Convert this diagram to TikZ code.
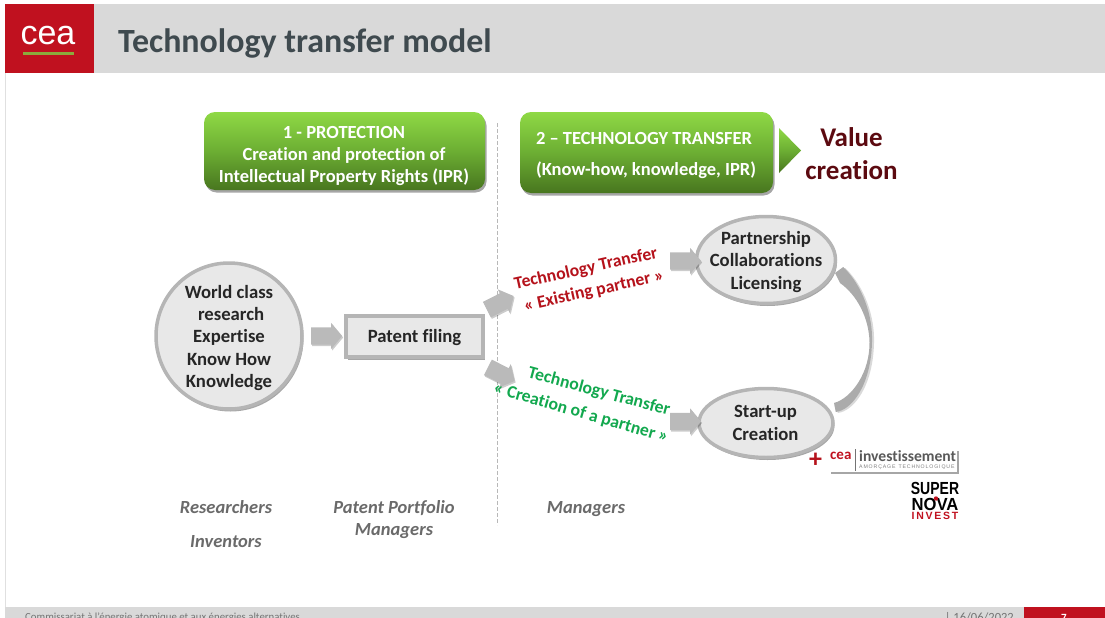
\documentclass[tikz,border=0pt]{standalone}
\usepackage{fontspec}
\setmainfont[Ligatures=NoCommon]{Carlito}
\newfontfamily\logofont{Liberation Sans}
\usetikzlibrary{shapes.arrows,shapes.geometric,shadows,shadings,calc}
\definecolor{hdr}{HTML}{D9D9D9}
\definecolor{cearedc}{HTML}{C0111F}
\definecolor{titlec}{HTML}{3F4A4F}
\definecolor{ring}{HTML}{B5B5B5}
\definecolor{disc}{HTML}{E8E8E8}
\definecolor{gtop}{HTML}{8FD945}
\definecolor{gmid}{HTML}{6CAE33}
\definecolor{gbot}{HTML}{48761F}
\definecolor{valc}{HTML}{5C0A10}
\definecolor{arrowc}{HTML}{BABABA}
\definecolor{redt}{HTML}{B5121B}
\definecolor{greent}{HTML}{12A84E}
\definecolor{lowc}{HTML}{6A6A6A}
\definecolor{logogreen}{HTML}{8CAB3C}
\tikzset{
  x=1pt,y=-1pt,
  softshadow/.style={drop shadow={shadow xshift=1.5pt,shadow yshift=-2.5pt,fill=black,opacity=.35}},
  greenbox/.style={rounded corners=11pt,shade,top color=gtop,bottom color=gbot,middle color=gmid,softshadow,anchor=center,inner sep=0pt},
  boxtext/.style={text=white,font=\fontsize{18.5}{22.3}\selectfont\bfseries,align=center,inner sep=0pt},
  greycirc/.style={circle,draw=ring,line width=3.5pt,fill=disc,softshadow,inner sep=0pt},
  greyell/.style={ellipse,draw=ring,line width=3.5pt,fill=disc,softshadow,inner sep=0pt},
  greyrect/.style={rectangle,draw=ring,line width=3.5pt,fill=disc,softshadow,inner sep=0pt},
  darktext/.style={font=\fontsize{18.7}{22.3}\selectfont\bfseries,text=black!85,align=center,inner sep=0pt},
  blockarrow/.style={single arrow,fill=arrowc,draw=none,minimum height=31pt,single arrow head extend=4.5pt,single arrow tip angle=100,inner sep=0pt,anchor=center,drop shadow={shadow xshift=1pt,shadow yshift=-1.5pt,fill=black,opacity=.2}},
  tlabel/.style={font=\fontsize{17.7}{21}\selectfont\bfseries,align=center,inner sep=0pt},
  lowlabel/.style={font=\fontsize{18.5}{22}\selectfont\bfseries\itshape,text=lowc,align=center,inner sep=0pt},
}
\newcommand{\shaftrule}{\rule{0pt}{17pt}}
\begin{document}
\begin{tikzpicture}
\useasboundingbox (0,0) rectangle (1105,618);
\clip (0,0) rectangle (1105,618);
% header
\fill[hdr] (5,4) rectangle (1105,73);
\fill[cearedc] (5,4) rectangle (94,73);
\draw[black!12,line width=.6pt] (5,73) -- (5,607);
\node[text=white,font=\logofont\fontsize{34}{34}\selectfont,inner sep=0pt] (logo) at (48,36) {cea};
\fill[logogreen] (23,52.5) rectangle (74,55);
\node[anchor=west,text=titlec,font=\fontsize{33.9}{36}\selectfont\bfseries,inner sep=0pt] (title) at (118,43) {Technology transfer model};
% footer
\fill[hdr] (5,607) rectangle (1105,618);
\fill[cearedc] (1024,607) rectangle (1105,618);
\node[anchor=west,text=black!55,font=\fontsize{10.8}{11}\selectfont,inner sep=0pt] (foot) at (25,618) {Commissariat à l’énergie atomique et aux énergies alternatives};
\node[anchor=east,text=black!55,font=\fontsize{12.5}{11}\selectfont,inner sep=0pt] (fdate) at (1014,618) {| 16/06/2022};
\node[text=white,font=\fontsize{11}{11}\selectfont\bfseries,inner sep=0pt] (fpage) at (1064,618) {7};
% top boxes
\node[greenbox,minimum width=281pt,minimum height=78pt] (prot) at (344.5,151) {};
\node[boxtext] (protT) at (344,156) {1 - PROTECTION\\Creation and protection of\\Intellectual Property Rights (IPR)};
\node[greenbox,minimum width=253pt,minimum height=81pt] (tt) at (646.5,152.5) {};
\node[boxtext] (ttA) at (644,138) {2 – TECHNOLOGY TRANSFER};
\node[boxtext] (ttB) at (646,170) {(Know-how, knowledge, IPR)};
\shade[top color=gtop,bottom color=gbot,middle color=gmid] (779,128) -- (801,150.5) -- (779,173) -- cycle;
\node[text=valc,font=\fontsize{27}{33}\selectfont\bfseries,align=center,inner sep=0pt] (val) at (851.5,153.5) {Value\\creation};
% divider
\coordinate (dtop) at (497,123);
\coordinate (dbot) at (497,525);
\draw[black!28,dash pattern=on 4pt off 2pt,line width=.8pt] (dtop) -- (dbot);
% main nodes
\node[greycirc,minimum size=146pt] (world) at (229,336) {};
\node[darktext] (worldt) at (229,338) {World class\\\ research\\Expertise\\Know How\\Knowledge};
\node[greyrect,minimum width=137pt,minimum height=41pt] (patent) at (414.5,336.5) {};
\node[darktext] (patentt) at (414.5,337.5) {Patent filing};
\node[greyell,minimum width=139pt,minimum height=87pt] (partner) at (766,260) {};
\node[darktext] (partnert) at (766,262) {Partnership\\Collaborations\\Licensing};
\node[greyell,minimum width=134pt,minimum height=69pt] (startup) at (766,423) {};
\node[darktext] (startupt) at (765.5,423) {Start-up\\Creation};
% block arrows
\node[blockarrow] (a1) at (323,336) {\shaftrule};
\node[blockarrow,rotate=27,minimum height=30pt] (a2) at (497,304.5) {\shaftrule};
\node[blockarrow,rotate=-27,minimum height=30pt] (a3) at (498,372.5) {\shaftrule};
\node[blockarrow] (a4) at (682,261) {\shaftrule};
\node[blockarrow] (a5) at (682,421.5) {\shaftrule};
% curved arrow
\coordinate (cS) at ($(startup.east)+(1,-11)$);
\coordinate (cT) at ($(partner.east)+(6,7)$);
\fill[fill=black!33,drop shadow={shadow xshift=2pt,shadow yshift=-1pt,fill=black,opacity=.15}]
  (cS) .. controls (852,410) and (871,385) .. (872,342)
  .. controls (873,315) and (862,285) .. (cT)
  -- (835,273) -- (840,283)
  .. controls (857,295) and (869,318) .. (869.5,342)
  .. controls (870,372) and (852,398) .. (834,403) -- cycle;
% labels on the branches
\node[tlabel,text=redt,rotate=12.5] (l1) at (586,269) {Technology Transfer};
\node[tlabel,text=redt,rotate=12.5] (l2) at (594,291) {« Existing partner »};
\node[tlabel,text=greent,rotate=-15] (l3) at (599,392) {Technology Transfer};
\node[tlabel,text=greent,rotate=-16] (l4) at (581,413) {« Creation of a partner »};
% lower captions
\node[lowlabel] (c1) at (226,507) {Researchers};
\node[lowlabel] (c2) at (226,542) {Inventors};
\node[lowlabel] (c3) at (394,520) {Patent Portfolio\\Managers};
\node[lowlabel] (c4) at (586,509) {Managers};
% logos
\node[text=redt,font=\fontsize{26}{26}\selectfont\bfseries,inner sep=0pt] (plus) at (815.5,460) {+};
\fill[white,drop shadow={shadow xshift=1.5pt,shadow yshift=-1.5pt,fill=black,opacity=.35}] (829,449) rectangle (957,472);
\node[anchor=west,text=cearedc,font=\fontsize{15}{15}\selectfont\bfseries,inner sep=0pt] (lcea) at (830,456) {cea};
\draw[black!55,line width=.6pt] (855,449) -- (855,471);
\node[anchor=west,text=black!65,font=\fontsize{15.6}{16}\selectfont\bfseries,inner sep=0pt] (linv) at (859,456) {investissement};
\node[anchor=west,text=black!50,font=\logofont\fontsize{5.2}{5}\selectfont,inner sep=0pt] (lamo) at (859,467.5) {A\,M\,O\,R\,Ç\,A\,G\,E\ \ T\,E\,C\,H\,N\,O\,L\,O\,G\,I\,Q\,U\,E};
\node[text=black,font=\logofont\fontsize{17.5}{16}\selectfont\bfseries,inner sep=0pt,xscale=.8] (sup) at (935,488) {SUPER};
\node[text=black,font=\logofont\fontsize{17.5}{16}\selectfont\bfseries,inner sep=0pt,xscale=.95] (nov) at (935,504) {NOVA};
\fill[cearedc] (936,498.5) circle (2.2);
\node[text=cearedc,font=\logofont\fontsize{10.5}{10}\selectfont\bfseries,inner sep=0pt] (inv) at (935,516) {I\,N\,V\,E\,S\,T};
\end{tikzpicture}
\end{document}
